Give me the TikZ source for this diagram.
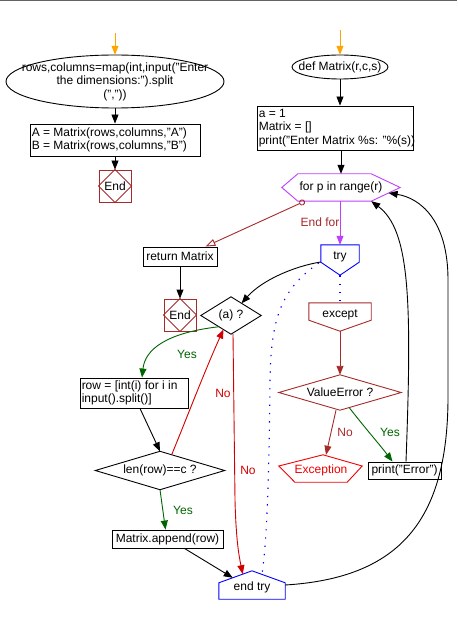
\documentclass[tikz,border=0pt]{standalone}
\usepackage{fontspec}
\setmainfont{Liberation Sans}
\usetikzlibrary{arrows.meta,calc}
\definecolor{cbrown}{RGB}{165,42,42}
\definecolor{cgreen}{RGB}{0,100,0}
\definecolor{cred}{RGB}{210,0,0}
\definecolor{cbred}{RGB}{240,0,0}
\definecolor{cpurple}{RGB}{190,64,250}
\definecolor{cblue}{RGB}{0,0,255}
\definecolor{corange}{RGB}{255,165,0}
\definecolor{cgrayline}{RGB}{100,100,100}
\begin{document}
\begin{tikzpicture}[x=1pt,y=-1pt,
  every node/.style={font=\fontsize{12}{13.5}\selectfont, inner sep=1pt},
  lw/.style={line width=0.9pt},
  sz/.style 2 args={minimum width=#1, minimum height=#2},
  arr/.style={lw, -{Triangle[length=9pt,width=7pt]}},
  dots/.style={cblue, line width=1.1pt, dash pattern=on 1.3pt off 7pt},
  lab/.style={font=\fontsize{12}{13.5}\selectfont}
]
\useasboundingbox (0,0) rectangle (457,617);
\fill[cgrayline] (0,0) rectangle (457,1.5);

% ---------- left column
\coordinate (o1) at (115,33);
\node[sz={218}{53}, align=center] (s1) at (115,81.5) {rows,columns=map(int,input("Enter\\the dimensions:").split\\(","))};
\draw[lw] (s1.center) ellipse [x radius=109, y radius=26.5];
\node[draw, lw, sz={170}{32}] (ab) at (115,140) {};
\node[anchor=west, align=left] (abt) at ($(ab.west)+(1,0)$) {A = Matrix(rows,columns,"A")\\B = Matrix(rows,columns,"B")};
\node[draw=cbrown, lw, sz={32}{32}] (e1) at (115,186) {End};
\draw[cbrown, lw] (e1.north)--(e1.east)--(e1.south)--(e1.west)--cycle;

\draw[arr, corange] (o1) -- (s1.north);
\draw[arr] (s1.south) -- (ab.north);
\draw[arr] (ab.south) -- (e1.north);

% ---------- right column
\coordinate (o2) at (340,30);
\node[sz={96}{24}] (dm) at (340,67) {def Matrix(r,c,s)};
\draw[lw] (dm.center) ellipse [x radius=48, y radius=12];
\node[draw, lw, sz={156}{44}] (ib) at (335,128) {};
\node[anchor=west, align=left] (ibt) at ($(ib.west)+(1,0)$) {a = 1\\Matrix = []\\print("Enter Matrix \%s: "\%(s))};

\node[sz={118}{27}] (fr) at (341,187.5) {for p in range(r)};
\coordinate (frBL) at ($(fr.south west)+(16,0)$);
\coordinate (frBR) at ($(fr.south east)+(-29,0)$);
\draw[cpurple, lw] (fr.west) -- ($(fr.north west)+(16,0)$) -- ($(fr.north east)+(-29,0)$) -- (fr.east) -- (frBR) -- (frBL) -- cycle;

\draw[arr, corange] (o2) -- (dm.north);
\draw[arr] (dm.south) -- (dm.south |- ib.north);
\draw[arr] (fr.north |- ib.south) -- (fr.north);

\node[draw, lw, sz={74}{19}] (rt) at (180,256.5) {return Matrix};
\node[draw=cbrown, lw, sz={32}{32}] (e2) at (180,315) {End};
\draw[cbrown, lw] (e2.north)--(e2.east)--(e2.south)--(e2.west)--cycle;
\draw[arr] (rt.south) -- (e2.north);

% try
\node[sz={38}{30}] (tr) at (340,260) {};
\draw[cblue, lw] (tr.north west) -- (tr.north east) -- ($(tr.south east)+(0,-13)$) -- (tr.south) -- ($(tr.south west)+(0,-13)$) -- cycle;
\node (trt) at (340,257) {try};
\draw[arr, cpurple] (tr.north |- fr.south) -- (tr.north);

% End for
\draw[cbrown, lw, {Circle[open,length=6pt,width=6pt]}-{Triangle[open,length=10pt,width=7pt]}] ($(frBL)+(7,0)$) -- ($(rt.north east)+(-12,0)$);
\node[text=cbrown] (efl) at (320,222) {End for};

% except
\node[sz={62}{28}] (ex) at (340,317) {};
\draw[cbrown, lw] (ex.north west) -- (ex.north east) -- ($(ex.south east)+(0,-11)$) -- (ex.south) -- ($(ex.south west)+(0,-11)$) -- cycle;
\node (ext) at (340,314.5) {except};
\draw[dots] (tr.south) -- (ex.north);

% ValueError
\node[sz={122}{35}] (ve) at (340,392.5) {ValueError ?};
\draw[cbrown, lw] (ve.north)--(ve.east)--(ve.south)--(ve.west)--cycle;
\draw[arr, cbrown] (ex.south) -- (ve.north);

% Exception
\node[sz={83}{27}] (xc) at (320.5,468.5) {};
\coordinate (xtop) at ($(xc.north)+(2.5,0)$);
\draw[cbred, lw] ($(xc.west)+(0,-2.5)$) -- (xtop) -- ($(xc.east)+(0,-2.5)$) -- ($(xc.south east)+(-15,0)$) -- ($(xc.south west)+(16,0)$) -- cycle;
\node[text=cbred] (xct) at (321,470) {Exception};

% print
\node[draw, lw, sz={73}{17}] (pe) at (404.5,470.5) {print("Error")};

\draw[arr, cbrown] ($(ve.south)+(-4,0)$) -- ($(xtop)+(3,0)$);
\node[text=cbrown] (nol1) at (345,432) {No};
\draw[arr, cgreen] ($(ve.south)!0.15!(ve.east)$) .. controls (365,428) and (380,445) .. ($(pe.north)+(-12,0)$);
\node[text=cgreen] (yesl1) at (390,432) {Yes};

% (a) ?
\node[sz={60}{37}] (ad) at (231,315.5) {(a) ?};
\draw[lw] (ad.north)--(ad.east)--(ad.south)--(ad.west)--cycle;
\draw[arr] ($(tr.west)+(0,2)$) .. controls (295,266) and (262,280) .. ($(ad.north)!0.35!(ad.east)$);

% row
\node[draw, lw, sz={108}{30}] (rw) at (134,393) {};
\node[anchor=west, align=left] (rwt) at ($(rw.west)+(1,0)$) {row = [int(i) for i in\\input().split()]};
\draw[arr, cgreen] ($(ad.west)!0.6!(ad.south)$) .. controls (165,333) and (145,350) .. ($(rw.north)+(8,0)$);
\node[text=cgreen] (yesl2) at (187,354) {Yes};

% len
\node[sz={129}{38}] (lr) at (160,470.5) {len(row)==c ?};
\draw[lw] (lr.north)--(lr.east)--(lr.south)--(lr.west)--cycle;
\draw[arr] ($(rw.south)+(6,0)$) -- (lr.north);
\draw[arr, cred] ($(lr.north)!0.18!(lr.east)$) .. controls (184,425) and (205,370) .. ($(ad.south)!0.25!(ad.west)$);
\node[text=cred] (nol2) at (223,393) {No};

% append
\node[draw, lw, sz={111}{18}] (ap) at (167.5,539) {Matrix.append(row)};
\draw[arr, cgreen] (lr.south) -- ($(ap.north)+(-2,0)$);
\node[text=cgreen] (yesl3) at (183,510) {Yes};

% end try
\node[sz={66}{28}] (et) at (252,585) {};
\coordinate (etL) at ($(et.north west)+(0,12)$);
\coordinate (etR) at ($(et.north east)+(0,12)$);
\draw[cblue, lw] (et.north) -- (etR) -- (et.south east) -- (et.south west) -- (etL) -- cycle;
\node (ett) at (252,587) {end try};

\draw[arr] ($(ap.south)+(17,0)$) -- ($(etL)!0.42!(et.north)$);
\draw[arr, cred] ($(ad.south)+(2,0)$) -- (235,500) .. controls (236,540) and (239,556) .. ($(etL)!0.72!(et.north)$);
\node[text=cred] (nol3) at (248,470) {No};

\draw[dots] ($(tr.west)+(-2,3)$) .. controls (280,290) and (271,320) .. (270,380) .. controls (269,480) and (267,540) .. ($(et.north)!0.3!(etR)$);

% loop backs
\draw[arr] ($(pe.north)+(1.5,0)$) .. controls (412,300) and (410,230) .. (frBR);
\draw[arr] (et.east) .. controls (400,578) and (447,520) .. (448,400) -- (448,280) .. controls (448,220) and (420,198) .. ($(fr.east)!0.4!(frBR)$);
\end{tikzpicture}
\end{document}
